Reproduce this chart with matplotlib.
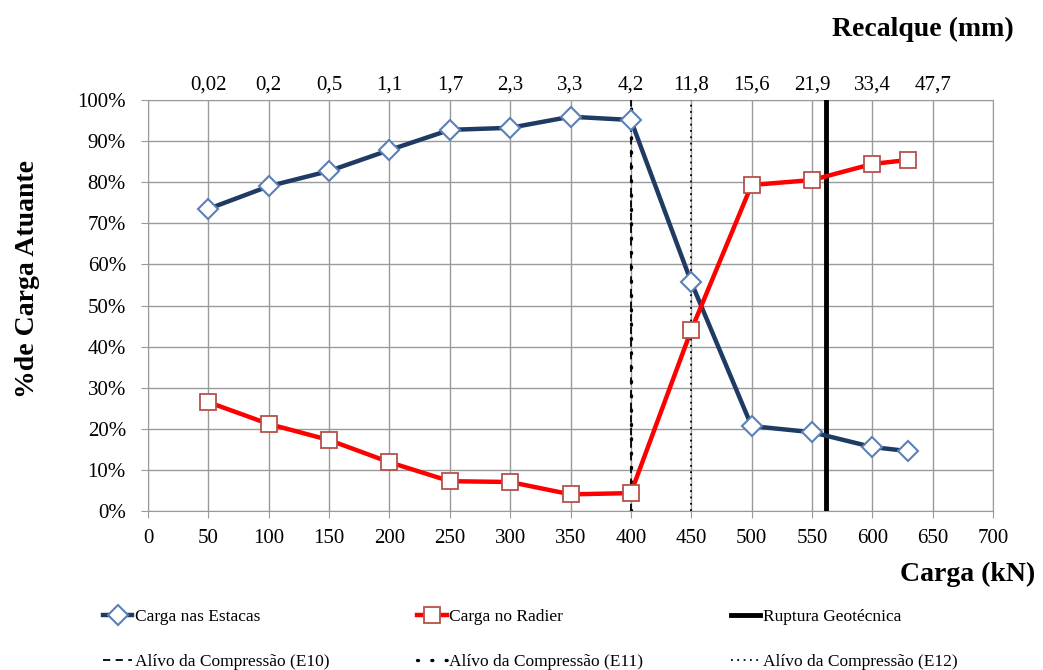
import matplotlib
matplotlib.use("Agg")
import matplotlib.pyplot as plt
from matplotlib.ticker import FuncFormatter

# load levels (kN)
carga = [50, 100, 150, 200, 250, 300, 350, 400, 450, 500, 550, 600, 630]
# share of load (%)
estacas = [73.5, 79.0, 82.7, 87.8, 92.7, 93.2, 95.9, 95.1, 55.7, 20.7, 19.2, 15.6, 14.6]
radier = [26.5, 21.2, 17.3, 11.9, 7.3, 7.1, 4.1, 4.4, 44.0, 79.3, 80.5, 84.4, 85.4]
# settlement labels on top axis (mm)
recalque_pos = [50, 100, 150, 200, 250, 300, 350, 400, 450, 500, 550, 600, 650]
recalque_lbl = ["0,02", "0,2", "0,5", "1,1", "1,7", "2,3", "3,3", "4,2",
                "11,8", "15,6", "21,9", "33,4", "47,7"]
ruptura = 562
alivio_e10 = 400
alivio_e11 = 400
alivio_e12 = 450

plt.rcParams["font.family"] = ["Liberation Serif", "DejaVu Serif"]
GRID = "#9A9A9A"

fig = plt.figure(figsize=(10.43, 6.70), dpi=100)
ax = fig.add_axes([0.142, 0.237, 0.810, 0.614])

h_est, = ax.plot(carga, estacas, color="#1F3B63", lw=3.2, marker="D", ms=10,
                 mfc="white", mec="#5B80B5", mew=1.5, label="Carga nas Estacas", zorder=5)
h_rad, = ax.plot(carga, radier, color="#FF0000", lw=3.2, marker="s", ms=11,
                 mfc="white", mec="#B5504B", mew=1.3, label="Carga no Radier", zorder=5)
h_rup = ax.axvline(ruptura, color="black", lw=3.5, label="Ruptura Geotécnica", zorder=4)
h_e10 = ax.axvline(alivio_e10, color="black", lw=1.3, ls=(0, (4, 3)),
                   label="Alívo da Compressão (E10)", zorder=3)
h_e11 = ax.axvline(alivio_e11, color="black", lw=2.4, ls=(0, (0.3, 4)),
                   dash_capstyle="round", label="Alívo da Compressão (E11)", zorder=3)
h_e12 = ax.axvline(alivio_e12, color="black", lw=1.3, ls=(0, (1, 2.5)),
                   label="Alívo da Compressão (E12)", zorder=3)

ax.set_xlim(0, 700)
ax.set_ylim(0, 100)
ax.set_xticks(range(0, 701, 50))
ax.set_yticks(range(0, 101, 10))
ax.yaxis.set_major_formatter(FuncFormatter(lambda v, p: f"{v:.0f}%"))
ax.grid(True, color=GRID, lw=1.0)
ax.set_axisbelow(True)
for s in ax.spines.values():
    s.set_color(GRID)
ax.tick_params(labelsize=15, length=5, color=GRID)
ax.tick_params(axis="y", pad=11)
ax.tick_params(axis="x", pad=8)

ax.set_ylabel("%de Carga Atuante", fontsize=20, fontweight="bold")
ax.yaxis.set_label_coords(-0.128, 0.565)
fig.text(0.993, 0.142, "Carga (kN)", ha="right", va="center",
         fontsize=20, fontweight="bold")

top = ax.twiny()
top.set_xlim(ax.get_xlim())
top.set_xticks(recalque_pos)
top.set_xticklabels(recalque_lbl)
top.tick_params(labelsize=15, length=0, pad=4)
for s in top.spines.values():
    s.set_visible(False)
fig.text(0.972, 0.956, "Recalque (mm)", ha="right", va="center",
         fontsize=20, fontweight="bold")

# matplotlib fills legend columns first, so order for row-wise reading
handles = [h_est, h_e10, h_rad, h_e11, h_rup, h_e12]
fig.legend(handles, [h.get_label() for h in handles], loc="lower left",
           bbox_to_anchor=(0.092, -0.010), borderaxespad=0, ncol=3,
           frameon=False, fontsize=12.5, handlelength=1.7, handletextpad=0.15,
           columnspacing=5.05, labelspacing=1.65)

fig.savefig("out.png", dpi=100)
